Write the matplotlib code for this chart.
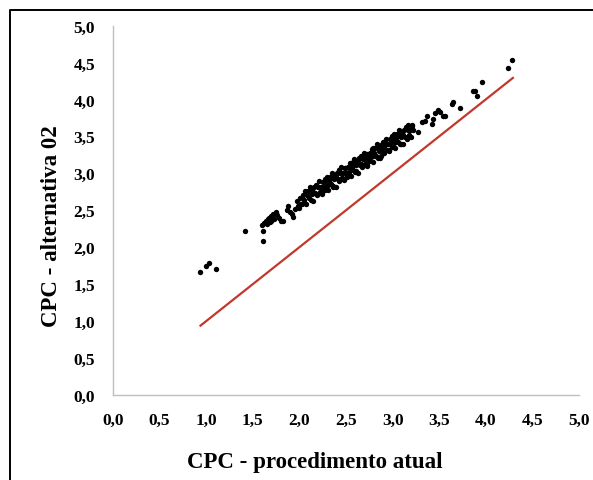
import matplotlib
matplotlib.use("Agg")
import matplotlib.pyplot as plt
from matplotlib.lines import Line2D

# ---------------- data ----------------
x_low = [0.93, 1.00, 1.03, 1.11, 1.42, 1.61, 1.61, 1.60]
y_low = [1.67, 1.75, 1.78, 1.71, 2.22, 2.22, 2.09, 2.30]

x_start = [1.62, 1.64, 1.65, 1.66, 1.68, 1.70, 1.72, 1.73, 1.75, 1.76, 1.78, 1.80, 1.70, 1.67,
           1.82, 1.87, 1.88, 1.90, 1.92, 1.93, 1.95, 1.97, 1.98, 2.00, 2.01, 2.02]
y_start = [2.33, 2.36, 2.31, 2.38, 2.34, 2.42, 2.45, 2.38, 2.48, 2.43, 2.40, 2.36, 2.36, 2.40,
           2.36, 2.51, 2.56, 2.47, 2.45, 2.41, 2.52, 2.62, 2.56, 2.53, 2.66, 2.59]

x_band = [2.03, 2.04, 2.05, 2.06, 2.07, 2.08, 2.09, 2.10, 2.11, 2.12, 2.13, 2.14, 2.15, 2.16, 2.17,
          2.18, 2.19, 2.20, 2.21, 2.22, 2.23, 2.24, 2.25, 2.26, 2.27, 2.28, 2.29, 2.30, 2.31, 2.32,
          2.33, 2.34, 2.35, 2.36, 2.37, 2.38, 2.39, 2.40, 2.41, 2.42, 2.43, 2.44, 2.45, 2.46, 2.47,
          2.48, 2.49, 2.50, 2.51, 2.52, 2.53, 2.54, 2.55, 2.56, 2.57, 2.58, 2.59, 2.60, 2.61, 2.62,
          2.63, 2.64, 2.65, 2.66, 2.67, 2.68, 2.69, 2.70, 2.71, 2.72, 2.73, 2.74, 2.75, 2.76, 2.77,
          2.78, 2.79, 2.80, 2.81, 2.82, 2.83, 2.84, 2.85, 2.86, 2.87, 2.88, 2.89, 2.90, 2.91, 2.92,
          2.93, 2.94, 2.95, 2.96, 2.97, 2.98, 2.99, 3.00, 3.01, 3.02, 3.03, 3.04, 3.05, 3.06, 3.07,
          3.08, 3.09, 3.10, 3.11, 3.12, 3.13, 3.14, 3.15, 3.16, 3.17, 3.18, 3.19, 3.20, 3.21, 3.22]
y_band = [2.58, 2.70, 2.64, 2.76, 2.58, 2.70, 2.76, 2.66, 2.82, 2.64, 2.72, 2.77, 2.63, 2.81, 2.73,
          2.84, 2.70, 2.81, 2.89, 2.75, 2.81, 2.72, 2.88, 2.82, 2.78, 2.89, 2.83, 2.95, 2.77, 2.90,
          2.95, 2.85, 3.01, 2.83, 2.92, 2.96, 2.82, 3.00, 2.92, 3.04, 2.89, 3.00, 3.08, 2.94, 3.01,
          2.91, 3.07, 3.01, 2.97, 3.09, 3.02, 3.14, 2.96, 3.09, 3.15, 3.04, 3.20, 3.02, 3.11, 3.16,
          3.01, 3.19, 3.11, 3.23, 3.09, 3.19, 3.27, 3.13, 3.20, 3.11, 3.26, 3.20, 3.16, 3.28, 3.22,
          3.33, 3.15, 3.28, 3.34, 3.24, 3.39, 3.21, 3.30, 3.35, 3.21, 3.38, 3.30, 3.42, 3.28, 3.39,
          3.46, 3.32, 3.39, 3.30, 3.46, 3.39, 3.35, 3.47, 3.41, 3.53, 3.34, 3.47, 3.53, 3.43, 3.59,
          3.40, 3.49, 3.54, 3.40, 3.58, 3.49, 3.61, 3.47, 3.58, 3.66, 3.51, 3.58, 3.49, 3.65, 3.59]

x_band2 = [2.215, 2.245, 2.275, 2.305, 2.335, 2.365, 2.395, 2.425, 2.455, 2.485, 2.515, 2.545,
           2.575, 2.605, 2.635, 2.665, 2.695, 2.725, 2.755, 2.785, 2.815, 2.845, 2.875, 2.905,
           2.935, 2.965, 2.995, 3.025, 3.055, 3.085, 3.115, 3.145, 3.175, 3.205]
y_band2 = [2.82, 2.75, 2.92, 2.84, 2.94, 2.81, 2.95, 3.05, 2.94, 3.07, 2.95, 3.08,
           3.11, 3.03, 3.21, 3.13, 3.23, 3.10, 3.23, 3.34, 3.23, 3.36, 3.24, 3.36,
           3.40, 3.32, 3.50, 3.42, 3.51, 3.39, 3.52, 3.63, 3.52, 3.64]

x_high = [3.27, 3.32, 3.35, 3.37, 3.42, 3.43, 3.45, 3.49, 3.51, 3.54, 3.56, 3.64, 3.65, 3.72,
          3.86, 3.88, 3.91, 3.96, 4.24, 4.28]
y_high = [3.56, 3.70, 3.71, 3.77, 3.67, 3.74, 3.81, 3.85, 3.83, 3.78, 3.77, 3.94, 3.97, 3.88,
          4.12, 4.11, 4.04, 4.23, 4.43, 4.53]

line_x = [0.93, 4.30]
line_y = [0.93, 4.30]

ticks = [0.0, 0.5, 1.0, 1.5, 2.0, 2.5, 3.0, 3.5, 4.0, 4.5, 5.0]
tick_labels = ["0,0", "0,5", "1,0", "1,5", "2,0", "2,5", "3,0", "3,5", "4,0", "4,5", "5,0"]
x_title = "CPC - procedimento atual"
y_title = "CPC - alternativa 02"

# ---------------- figure ----------------
W, H = 593, 481
fig = plt.figure(figsize=(W / 100, H / 100), dpi=100)
fig.patch.set_facecolor("white")
plt.rcParams["font.family"] = ["Liberation Serif", "DejaVu Serif"]

left, right, bottom, top = 113, 579, 396, 26.5
ax = fig.add_axes([left / W, 1 - bottom / H, (right - left) / W, (bottom - top) / H])

xs = x_low + x_start + x_band + x_band2 + x_high
ys = y_low + y_start + y_band + y_band2 + y_high
ax.plot(line_x, line_y, color="#c0392b", lw=1.6, solid_capstyle="butt", zorder=2)
ax.scatter(xs, ys, s=15, color="black", linewidths=0, zorder=3)

ax.set_xlim(0, 5)
ax.set_ylim(0, 5)
ax.set_xticks(ticks)
ax.set_yticks(ticks)
ax.set_xticklabels(tick_labels, fontsize=12.5, fontweight="bold")
ax.set_yticklabels(tick_labels, fontsize=12.5, fontweight="bold")
ax.tick_params(axis="both", length=0)
ax.tick_params(axis="x", pad=12)
ax.tick_params(axis="y", pad=13)
for s in ["top", "right"]:
    ax.spines[s].set_visible(False)
for s in ["left", "bottom"]:
    ax.spines[s].set_color("#bfbfbf")
    ax.spines[s].set_linewidth(1.0)

fig.text(315 / W, 1 - 463 / H, x_title, ha="center", va="center",
         fontsize=16.5, fontweight="bold")
fig.text(52 / W, 1 - 226 / H, y_title, ha="center", va="center", rotation=90,
         fontsize=16.5, fontweight="bold")

# outer frame (partially cropped)
fig.add_artist(Line2D([9.5 / W, 9.5 / W, 1.0], [0.0, 1 - 10.5 / H, 1 - 10.5 / H],
                      transform=fig.transFigure, color="black", lw=1.4))

fig.savefig("out.png", dpi=100)
